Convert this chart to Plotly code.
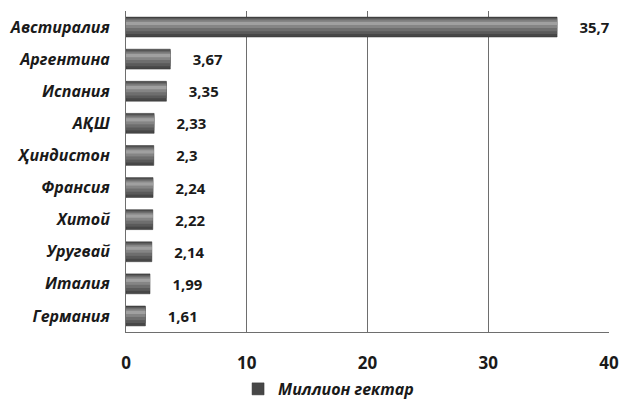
import plotly.graph_objects as go

countries = ["Австиралия", "Аргентина", "Испания", "АҚШ", "Ҳиндистон",
             "Франсия", "Хитой", "Уругвай", "Италия", "Германия"]
values = [35.7, 3.67, 3.35, 2.33, 2.3, 2.24, 2.22, 2.14, 1.99, 1.61]
series_name = "Миллион гектар"
x_ticks = [0, 10, 20, 30, 40]

labels = ["     " + (f"{v:g}".replace(".", ",")) for v in values]
cat_labels = [f"<b><i>{c}</i></b>" for c in countries]

fig = go.Figure()
fig.add_trace(go.Bar(
    y=cat_labels, x=values, orientation="h", name=f"<b><i>{series_name}</i></b>",
    width=0.62, marker=dict(color="#474747", line=dict(color="#333333", width=0.5)),
    text=[f"<b>{t}</b>" for t in labels], textposition="outside", cliponaxis=False,
    textfont=dict(size=15, color="#1a1a1a", family="Open Sans"),
))
layers = [("#5a5a5a", 0.50, -0.28), ("#6e6e6e", 0.38, -0.25), ("#858585", 0.24, -0.21), ("#a0a0a0", 0.10, -0.16)]
for col, w, off in layers:
    fig.add_trace(go.Bar(
        y=cat_labels, x=values, orientation="h", showlegend=False, hoverinfo="skip",
        width=w, offset=off, marker=dict(color=col, line=dict(width=0)),
    ))

fig.update_layout(
    width=622, height=401,
    margin=dict(l=126, r=13, t=11, b=69, autoexpand=False),
    barmode="overlay",
    plot_bgcolor="white", paper_bgcolor="white",
    font=dict(family="Open Sans", size=14, color="#1a1a1a"),
    showlegend=True,
    legend=dict(orientation="h", x=0.232, xanchor="left", yref="container", y=0.03,
                yanchor="middle", font=dict(size=16, color="#1a1a1a"), itemwidth=30),
    xaxis=dict(range=[0, 40], tickvals=x_ticks, ticktext=[f"<b>{t}</b>" for t in x_ticks],
               showgrid=True, gridcolor="#6e6e6e", gridwidth=1,
               showline=True, linecolor="#6e6e6e", linewidth=1,
               ticks="", ticklabelstandoff=16, zeroline=False, automargin=False,
               tickfont=dict(size=17)),
    yaxis=dict(autorange="reversed", showline=True, linecolor="#6e6e6e", linewidth=1,
               ticks="", ticklabelstandoff=12, showgrid=False, automargin=False,
               tickfont=dict(size=16)),
    bargap=0.38,
)
fig.write_html("out.html", config={"displayModeBar": False},
               post_script="document.body.style.margin='0';document.body.style.overflow='hidden';")
